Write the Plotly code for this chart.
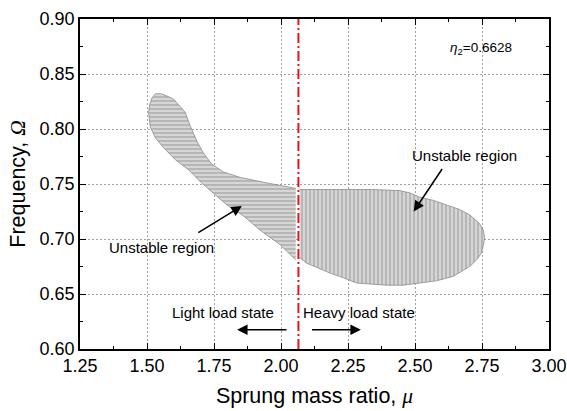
import plotly.graph_objects as go

# ---- data ----
left_x = [2.055, 1.996, 1.922, 1.860, 1.798, 1.748, 1.699, 1.655, 1.606, 1.562, 1.531, 1.512, 1.506,
          1.510, 1.518, 1.531, 1.553, 1.575, 1.600, 1.618, 1.643, 1.661, 1.686, 1.711, 1.742, 1.785,
          1.848, 1.947, 2.055]
left_y = [0.681, 0.695, 0.708, 0.721, 0.731, 0.742, 0.752, 0.763, 0.772, 0.783, 0.792, 0.802, 0.815,
          0.822, 0.828, 0.832, 0.832, 0.830, 0.827, 0.822, 0.815, 0.803, 0.789, 0.778, 0.768, 0.761,
          0.756, 0.751, 0.746]

right_x = [2.070, 2.160, 2.245, 2.340, 2.443, 2.480, 2.518, 2.570, 2.617, 2.665, 2.704, 2.741, 2.755,
           2.760, 2.755, 2.747, 2.730, 2.704, 2.642, 2.580, 2.518, 2.455, 2.394, 2.335, 2.282, 2.230,
           2.183, 2.135, 2.096, 2.070]
right_y = [0.745, 0.745, 0.745, 0.745, 0.744, 0.742, 0.738, 0.735, 0.731, 0.727, 0.722, 0.714, 0.708,
           0.701, 0.694, 0.687, 0.681, 0.675, 0.666, 0.662, 0.660, 0.658, 0.658, 0.659, 0.660, 0.665,
           0.669, 0.674, 0.678, 0.683]

divider_x = [2.065, 2.065]
divider_y = [0.60, 0.90]

x_ticks = [1.25, 1.50, 1.75, 2.00, 2.25, 2.50, 2.75, 3.00]
y_ticks = [0.60, 0.65, 0.70, 0.75, 0.80, 0.85, 0.90]

FONT = "Liberation Sans, Arial, sans-serif"

fig = go.Figure()

fig.add_trace(go.Scatter(
    x=left_x, y=left_y, mode="lines", fill="toself",
    line=dict(color="#8c8c8c", width=0.8),
    fillcolor="#d6d6d6",
    fillpattern=dict(shape="-", size=4, solidity=0.3, fgcolor="#6e6e6e", bgcolor="#d6d6d6"),
    hoverinfo="skip", showlegend=False))

fig.add_trace(go.Scatter(
    x=right_x, y=right_y, mode="lines", fill="toself",
    line=dict(color="#8c8c8c", width=0.8),
    fillcolor="#d6d6d6",
    fillpattern=dict(shape="|", size=4, solidity=0.3, fgcolor="#6e6e6e", bgcolor="#d6d6d6"),
    hoverinfo="skip", showlegend=False))

fig.add_trace(go.Scatter(
    x=divider_x, y=divider_y, mode="lines",
    line=dict(color="#e8141c", width=2, dash="10px,3px,2px,3px"),
    hoverinfo="skip", showlegend=False))

axis_common = dict(
    showline=True, linecolor="black", linewidth=1.6, mirror="allticks",
    ticks="inside", ticklen=6, tickwidth=1, tickcolor="black",
    showgrid=True, gridcolor="#a0a0a0", gridwidth=1, griddash="2px,2px",
    zeroline=False, tickfont=dict(family=FONT, size=18, color="black"),
    tickformat=".2f", automargin=False,
)

fig.update_xaxes(range=[1.25, 3.00], tickvals=x_ticks,
                 minor=dict(ticks="inside", ticklen=3, tickwidth=1, tickcolor="black", dtick=0.125, tick0=1.25, showgrid=False),
                 title=dict(text="Sprung mass ratio, <span style='font-family:Liberation Serif'><i>μ</i></span>",
                            font=dict(family=FONT, size=21.5, color="black"), standoff=13),
                 **axis_common)
fig.update_yaxes(range=[0.60, 0.90], tickvals=y_ticks,
                 minor=dict(ticks="inside", ticklen=3, tickwidth=1, tickcolor="black", dtick=0.025, tick0=0.6, showgrid=False),
                 title=dict(text="Frequency, <span style='font-family:Liberation Serif'><i>Ω</i></span>",
                            font=dict(family=FONT, size=21.5, color="black"), standoff=8),
                 **axis_common)

tfont = dict(family=FONT, size=15, color="black")
annotations = [
    dict(x=2.748, y=0.873, text="<i>η</i><sub>2</sub>=0.6628", showarrow=False,
         font=dict(family=FONT, size=13.5, color="black")),
    dict(x=1.555, y=0.692, text="Unstable region", showarrow=False, font=tfont),
    dict(x=2.685, y=0.776, text="Unstable region", showarrow=False, font=tfont),
    dict(x=1.782, y=0.6336, text="Light load state", showarrow=False, font=tfont),
    dict(x=2.290, y=0.6336, text="Heavy load state", showarrow=False, font=tfont),
    # arrows
    dict(x=1.854, y=0.730, ax=1.686, ay=0.705, axref="x", ayref="y", text="", showarrow=True,
         arrowhead=2, arrowsize=1.4, arrowwidth=1.5, arrowcolor="black"),
    dict(x=2.495, y=0.725, ax=2.605, ay=0.765, axref="x", ayref="y", text="", showarrow=True,
         arrowhead=2, arrowsize=1.4, arrowwidth=1.5, arrowcolor="black"),
    dict(x=1.836, y=0.6176, ax=2.026, ay=0.6176, axref="x", ayref="y", text="", showarrow=True,
         arrowhead=2, arrowsize=1.4, arrowwidth=1.5, arrowcolor="black"),
    dict(x=2.298, y=0.6176, ax=2.110, ay=0.6176, axref="x", ayref="y", text="", showarrow=True,
         arrowhead=2, arrowsize=1.4, arrowwidth=1.5, arrowcolor="black"),
]
for a in annotations:
    a.setdefault("xref", "x")
    a.setdefault("yref", "y")
fig.update_layout(annotations=annotations)

fig.update_layout(
    width=567, height=411,
    margin=dict(l=80, r=18, t=19, b=62, autoexpand=False),
    paper_bgcolor="white", plot_bgcolor="white",
    font=dict(family=FONT, color="black"),
)

fig.write_html("out.html", config={"displayModeBar": False},
               post_script="document.body.style.margin='0';document.body.style.padding='0';")
